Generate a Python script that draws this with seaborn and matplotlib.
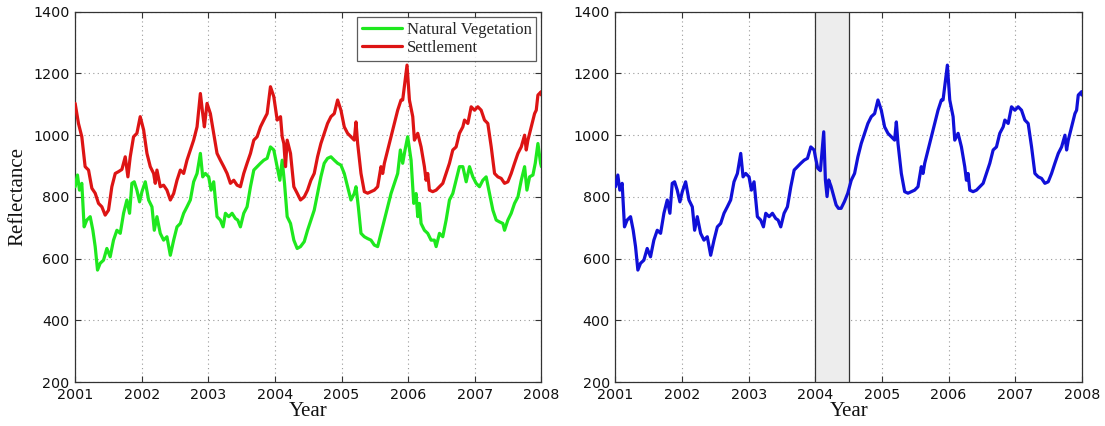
import numpy as np
import pandas as pd
import matplotlib
matplotlib.use("Agg")
import matplotlib.pyplot as plt
import seaborn as sns

# --- Reflectance time series (decimal year, value) ---
settle_year = [
    2001.000, 2001.050, 2001.100, 2001.150, 2001.201, 2001.251, 2001.301, 2001.351,
    2001.401, 2001.451, 2001.501, 2001.551, 2001.602, 2001.652, 2001.702, 2001.752,
    2001.792, 2001.827, 2001.877, 2001.927, 2001.977, 2002.028, 2002.078, 2002.128,
    2002.178, 2002.203, 2002.228, 2002.278, 2002.328, 2002.378, 2002.429, 2002.479,
    2002.529, 2002.579, 2002.629, 2002.679, 2002.729, 2002.779, 2002.830, 2002.880,
    2002.915, 2002.940, 2002.980, 2003.030, 2003.080, 2003.130, 2003.180, 2003.231,
    2003.281, 2003.331, 2003.381, 2003.431, 2003.481, 2003.531, 2003.581, 2003.632,
    2003.682, 2003.732, 2003.782, 2003.832, 2003.882, 2003.932, 2003.982, 2004.033,
    2004.083, 2004.108, 2004.133, 2004.158, 2004.183, 2004.233, 2004.283, 2004.333,
    2004.383, 2004.439, 2004.489, 2004.539, 2004.589, 2004.639, 2004.689, 2004.739,
    2004.789, 2004.840, 2004.890, 2004.940, 2004.990, 2005.040, 2005.090, 2005.140,
    2005.190, 2005.216, 2005.241, 2005.291, 2005.341, 2005.391, 2005.441, 2005.491,
    2005.541, 2005.591, 2005.617, 2005.642, 2005.692, 2005.742, 2005.792, 2005.842,
    2005.892, 2005.917, 2005.942, 2005.982, 2006.018, 2006.068, 2006.093, 2006.143,
    2006.193, 2006.243, 2006.268, 2006.293, 2006.318, 2006.368, 2006.419, 2006.469,
    2006.519, 2006.569, 2006.619, 2006.669, 2006.719, 2006.769, 2006.820, 2006.845,
    2006.895, 2006.945, 2006.995, 2007.045, 2007.095, 2007.145, 2007.195, 2007.246,
    2007.296, 2007.346, 2007.396, 2007.446, 2007.496, 2007.546, 2007.596, 2007.647,
    2007.697, 2007.747, 2007.772, 2007.797, 2007.847, 2007.897, 2007.922, 2007.947,
    2007.997, 2008.000,
]
settle_val = [
    1103, 1038, 995, 898, 887, 828, 812, 779,
    768, 741, 757, 833, 876, 882, 889, 930,
    865, 930, 995, 1006, 1060, 1017, 941, 898,
    876, 844, 887, 833, 838, 822, 790, 811,
    854, 887, 876, 919, 952, 984, 1027, 1135,
    1070, 1027, 1103, 1070, 1006, 941, 919, 898,
    876, 844, 854, 838, 833, 876, 909, 941,
    984, 995, 1027, 1049, 1070, 1157, 1125, 1049,
    1060, 995, 973, 898, 984, 941, 833, 812,
    790, 800, 822, 854, 876, 930, 973, 1006,
    1038, 1060, 1070, 1114, 1081, 1027, 1006, 995,
    984, 1043, 973, 876, 817, 812, 817, 822,
    833, 898, 876, 909, 952, 995, 1038, 1081,
    1114, 1114, 1157, 1227, 1114, 1060, 984, 1006,
    962, 898, 854, 876, 822, 817, 822, 833,
    844, 876, 909, 952, 962, 1006, 1027, 1049,
    1038, 1092, 1081, 1092, 1081, 1049, 1038, 962,
    876, 865, 860, 844, 849, 876, 909, 941,
    962, 1000, 952, 984, 1027, 1070, 1081, 1130,
    1141, 1130,
]

veg_year = [
    2001.000, 2001.035, 2001.065, 2001.100, 2001.135, 2001.175, 2001.226, 2001.266,
    2001.301, 2001.336, 2001.376, 2001.426, 2001.476, 2001.526, 2001.576, 2001.627,
    2001.677, 2001.727, 2001.777, 2001.817, 2001.852, 2001.887, 2001.927, 2001.967,
    2002.003, 2002.053, 2002.103, 2002.153, 2002.188, 2002.228, 2002.278, 2002.328,
    2002.378, 2002.429, 2002.479, 2002.529, 2002.579, 2002.629, 2002.679, 2002.729,
    2002.779, 2002.830, 2002.880, 2002.915, 2002.955, 2003.005, 2003.040, 2003.080,
    2003.130, 2003.180, 2003.221, 2003.256, 2003.306, 2003.356, 2003.406, 2003.441,
    2003.481, 2003.531, 2003.581, 2003.632, 2003.682, 2003.732, 2003.782, 2003.832,
    2003.882, 2003.932, 2003.982, 2004.033, 2004.073, 2004.108, 2004.143, 2004.183,
    2004.233, 2004.283, 2004.333, 2004.383, 2004.439, 2004.489, 2004.539, 2004.589,
    2004.639, 2004.689, 2004.739, 2004.789, 2004.840, 2004.890, 2004.940, 2004.990,
    2005.040, 2005.090, 2005.140, 2005.190, 2005.216, 2005.251, 2005.291, 2005.341,
    2005.391, 2005.441, 2005.491, 2005.541, 2005.591, 2005.642, 2005.692, 2005.742,
    2005.792, 2005.842, 2005.882, 2005.917, 2005.952, 2005.992, 2006.043, 2006.083,
    2006.118, 2006.143, 2006.168, 2006.193, 2006.243, 2006.293, 2006.343, 2006.393,
    2006.419, 2006.469, 2006.519, 2006.569, 2006.619, 2006.669, 2006.719, 2006.769,
    2006.820, 2006.870, 2006.920, 2006.970, 2007.020, 2007.070, 2007.120, 2007.170,
    2007.221, 2007.271, 2007.321, 2007.371, 2007.421, 2007.446, 2007.496, 2007.546,
    2007.596, 2007.647, 2007.697, 2007.747, 2007.782, 2007.822, 2007.872, 2007.907,
    2007.947, 2007.987, 2008.000,
]
veg_val = [
    833, 871, 822, 844, 703, 725, 736, 692,
    639, 563, 585, 595, 633, 606, 660, 692,
    682, 747, 790, 747, 844, 849, 822, 784,
    817, 849, 790, 768, 692, 736, 682, 660,
    671, 611, 660, 703, 714, 747, 768, 790,
    849, 876, 941, 865, 876, 865, 822, 849,
    736, 725, 703, 747, 736, 747, 730, 725,
    703, 747, 768, 833, 887, 898, 909, 919,
    925, 962, 952, 898, 854, 919, 844, 736,
    714, 660, 633, 639, 655, 692, 725, 757,
    811, 865, 909, 925, 930, 919, 909, 903,
    876, 833, 790, 811, 833, 768, 682, 671,
    665, 660, 644, 639, 682, 725, 768, 811,
    844, 876, 952, 909, 952, 995, 919, 779,
    811, 736, 779, 714, 692, 682, 660, 660,
    639, 682, 671, 725, 790, 811, 854, 898,
    898, 849, 898, 865, 844, 833, 854, 865,
    811, 757, 725, 719, 714, 692, 725, 747,
    779, 800, 854, 898, 822, 865, 871, 909,
    973, 909, 898,
]

# Pixel values inside the change window
change_start, change_end = 2004.0, 2004.5
change_year = [2004.000, 2004.036, 2004.076, 2004.126, 2004.151, 2004.176, 2004.201,
               2004.236, 2004.277, 2004.312, 2004.347, 2004.387, 2004.437, 2004.487]
change_val = [930, 893, 885, 1011, 855, 801, 855,
              834, 801, 774, 763, 763, 785, 812]

year_ticks = [2001, 2002, 2003, 2004, 2005, 2006, 2007, 2008]
refl_ticks = [200, 400, 600, 800, 1000, 1200, 1400]

# --- Data frames ---
veg = pd.DataFrame({"Year": veg_year, "Reflectance": veg_val, "Class": "Natural Vegetation"})
settle = pd.DataFrame({"Year": settle_year, "Reflectance": settle_val, "Class": "Settlement"})
both = pd.concat([veg, settle], ignore_index=True)

# Pixel that moves from vegetation to settlement
pix = pd.concat([
    veg[veg["Year"] < change_start],
    pd.DataFrame({"Year": change_year, "Reflectance": change_val}),
    settle[settle["Year"] >= change_end],
], ignore_index=True)[["Year", "Reflectance"]]

# --- Style ---
sns.set_theme(style="white")
plt.rcParams["font.family"] = ["DejaVu Sans"]
serif = ["Liberation Serif", "DejaVu Serif"]

fig = plt.figure(figsize=(11.05, 4.26), dpi=100)
ax1 = fig.add_axes([0.068, 0.103, 0.422, 0.8695])
ax2 = fig.add_axes([0.557, 0.103, 0.422, 0.8695])

green = "#1ee81e"
red = "#dd1414"
blue = "#1010d8"
lw = 2.3

sns.lineplot(data=both, x="Year", y="Reflectance", hue="Class",
             palette={"Natural Vegetation": green, "Settlement": red},
             estimator=None, sort=False, linewidth=lw, ax=ax1, zorder=3)

ax2.axvspan(change_start, change_end, facecolor="#ededed", edgecolor="none", zorder=1)
for xv in (change_start, change_end):
    ax2.axvline(xv, color="#333333", linewidth=0.9, zorder=2)
sns.lineplot(data=pix, x="Year", y="Reflectance", color=blue,
             estimator=None, sort=False, linewidth=lw, ax=ax2, zorder=3)

for ax in (ax1, ax2):
    ax.set_xlim(2001, 2008)
    ax.set_ylim(200, 1400)
    ax.set_xticks(year_ticks)
    ax.set_yticks(refl_ticks)
    ax.set_axisbelow(True)
    ax.grid(True, linestyle=(0, (1, 3)), color="#9a9a9a", linewidth=0.8, zorder=0)
    ax.tick_params(direction="in", length=4, width=0.8, color="#333333",
                   top=True, right=True, bottom=True, left=True,
                   labelsize=10.3, pad=4, labelcolor="#111111")
    for sp in ax.spines.values():
        sp.set_visible(True)
        sp.set_color("#333333")
        sp.set_linewidth(0.9)
    ax.set_xlabel("Year", fontsize=15, family=serif, labelpad=0, color="#111111")
    ax.set_ylabel("")

ax1.set_ylabel("Reflectance", fontsize=15, family=serif, labelpad=4, color="#111111")

leg = ax1.legend(loc="upper right", prop={"family": serif, "size": 12},
                 frameon=True, fancybox=False, handlelength=2.4, handletextpad=0.3,
                 borderpad=0.3, labelspacing=0.12, borderaxespad=0.3)
leg.get_frame().set_edgecolor("#333333")
leg.get_frame().set_linewidth(0.9)
for line in leg.get_lines():
    line.set_linewidth(lw)

fig.savefig("out.png", dpi=100, facecolor="white")
